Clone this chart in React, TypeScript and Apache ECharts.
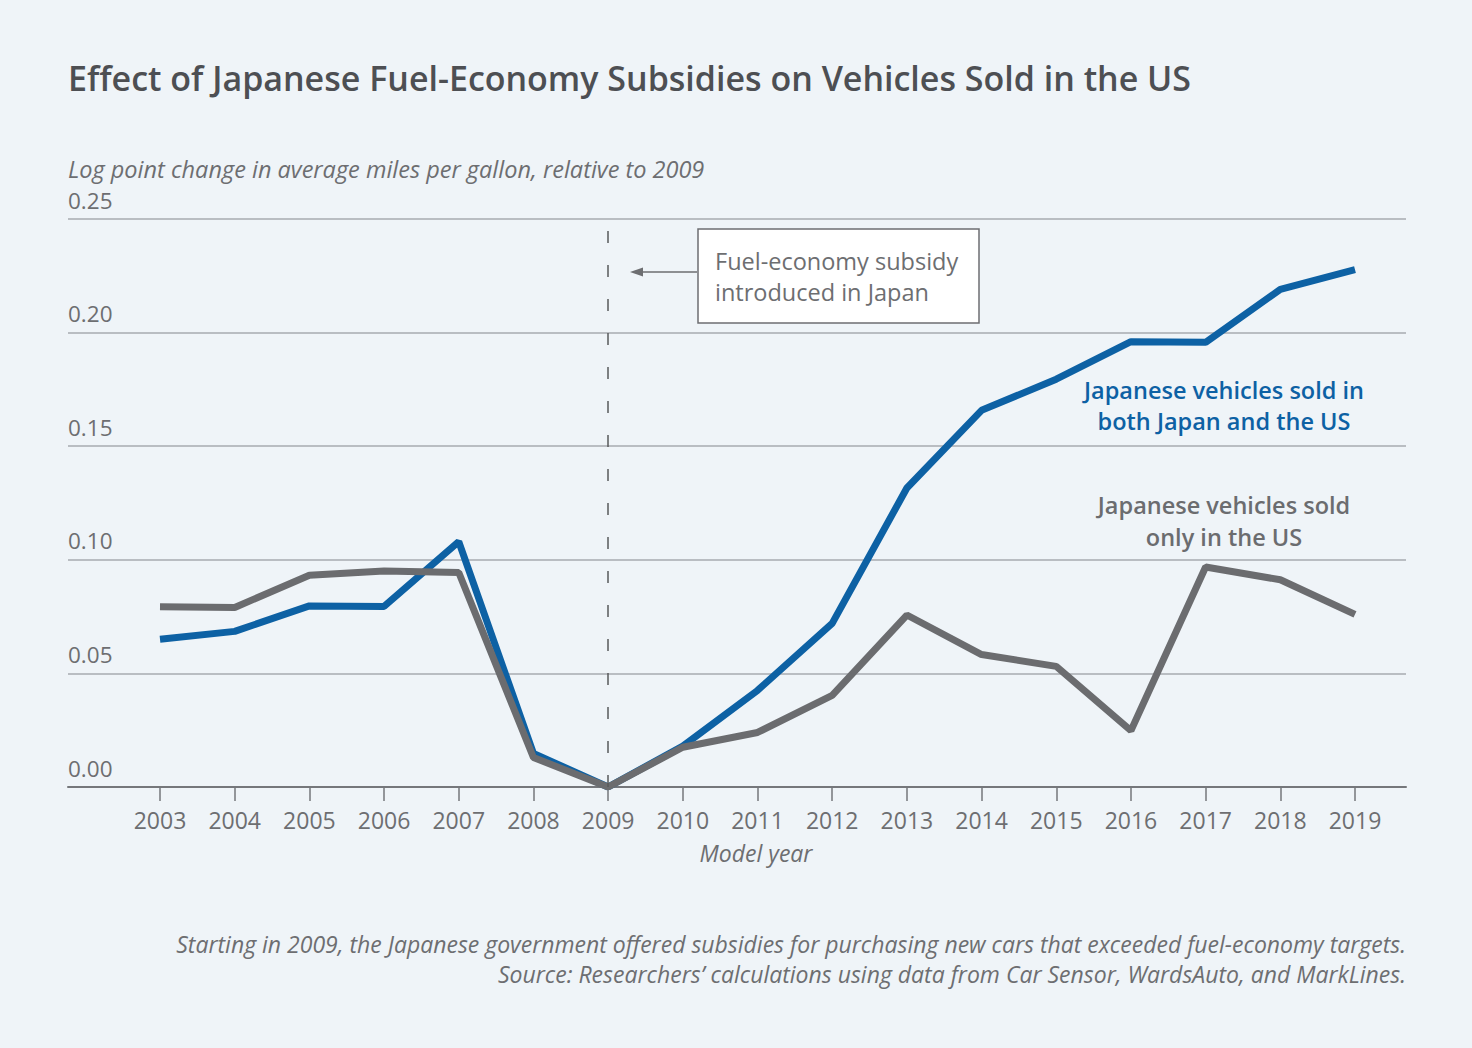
import React, { useEffect, useRef } from "react";
import * as echarts from "echarts";

const years = ["2003","2004","2005","2006","2007","2008","2009","2010","2011","2012","2013","2014","2015","2016","2017","2018","2019"];
const bothJapanUS = [0.065, 0.0685, 0.0797, 0.0795, 0.108, 0.0148, 0, 0.018, 0.0425, 0.072, 0.1316, 0.1658, 0.1795, 0.196, 0.1957, 0.219, 0.2277];
const onlyUS = [0.0793, 0.079, 0.0932, 0.0951, 0.0944, 0.013, 0, 0.0175, 0.024, 0.0403, 0.0757, 0.0583, 0.0531, 0.0248, 0.0968, 0.0912, 0.076];
const yTicks = [0, 0.05, 0.1, 0.15, 0.2, 0.25];
const subsidyYear = "2009";

const title = "Effect of Japanese Fuel-Economy Subsidies on Vehicles Sold in the US";
const yName = "Log point change in average miles per gallon, relative to 2009";
const xName = "Model year";
const annotation = "Fuel-economy subsidy\nintroduced in Japan";
const blueLabel = "Japanese vehicles sold in\nboth Japan and the US";
const grayLabel = "Japanese vehicles sold\nonly in the US";
const footerLines = [
  "Starting in 2009, the Japanese government offered subsidies for purchasing new cars that exceeded fuel-economy targets.",
  "Source: Researchers\u2019 calculations using data from Car Sensor, WardsAuto, and MarkLines.",
];

const FONT = "'Open Sans', Lato, sans-serif";
const BLUE = "#0d61a4";
const GRAY = "#6b6c6f";
const TEXT = "#6d6e71";

export default function App() {
  const ref = useRef<HTMLDivElement>(null);
  useEffect(() => {
    document.body.style.margin = "0";
    if (!ref.current) return;
    const chart = echarts.init(ref.current, undefined, { renderer: "svg" });
    const yMin = yTicks[0];
    const yMax = yTicks[yTicks.length - 1];
    const yInt = yTicks[1] - yTicks[0];
    chart.setOption({
      animation: false,
      backgroundColor: "#eff4f8",
      textStyle: { fontFamily: FONT },
      grid: [
        { left: 68, right: 66, top: 219, bottom: 261 },
        { left: 160, right: 117, top: 219, bottom: 261 },
      ],
      xAxis: [
        {
          gridIndex: 0, type: "value", min: 0, max: 1,
          axisLine: { show: true, onZero: false, lineStyle: { color: "#75777b", width: 2 } },
          axisTick: { show: false }, axisLabel: { show: false }, splitLine: { show: false },
        },
        {
          gridIndex: 1, type: "category", data: years, boundaryGap: false,
          axisLine: { show: false },
          axisTick: { show: true, length: 14, lineStyle: { color: "#75777b", width: 1.5 } },
          axisLabel: { color: TEXT, fontSize: 23, margin: 21, fontFamily: FONT, interval: 0 },
          splitLine: { show: false },
        },
      ],
      yAxis: [
        {
          gridIndex: 0, type: "value", min: yMin, max: yMax, interval: yInt,
          axisLine: { show: false }, axisTick: { show: false },
          axisLabel: {
            align: "left", margin: 0, verticalAlign: "bottom", padding: [0, 0, 8, 0],
            lineHeight: 22, color: TEXT, fontSize: 22.5, fontFamily: FONT,
            formatter: (v: number) => v.toFixed(2),
          },
          splitLine: { show: true, lineStyle: { color: "#b9bdc2", width: 2 } },
        },
        {
          gridIndex: 1, type: "value", min: yMin, max: yMax, interval: yInt,
          axisLine: { show: false }, axisTick: { show: false }, axisLabel: { show: false },
          splitLine: { show: false },
        },
      ],
      series: [
        {
          type: "line", xAxisIndex: 1, yAxisIndex: 1, data: bothJapanUS,
          showSymbol: false, symbol: "none",
          lineStyle: { color: BLUE, width: 7 },
          markLine: {
            silent: true, symbol: "none", label: { show: false },
            lineStyle: { color: "#58595b", width: 1.5, type: [12, 22] },
            data: [{ xAxis: subsidyYear }],
          },
          z: 3,
        },
        {
          type: "line", xAxisIndex: 1, yAxisIndex: 1, data: onlyUS,
          showSymbol: false, symbol: "none",
          lineStyle: { color: GRAY, width: 7 },
          z: 4,
        },
      ],
      graphic: [
        { type: "text", x: 68, y: 78, style: { text: title, fill: "#4d4f53", font: `600 34px ${FONT}`, verticalAlign: "middle" } },
        { type: "text", x: 68, y: 169, style: { text: yName, fill: TEXT, font: `italic 23.5px ${FONT}`, verticalAlign: "middle" } },
        { type: "text", x: 756, y: 853, style: { text: xName, fill: TEXT, font: `italic 23px ${FONT}`, align: "center", verticalAlign: "middle" } },
        { type: "rect", shape: { x: 698, y: 229, width: 281, height: 94 }, style: { fill: "#ffffff", stroke: "#6d6e71", lineWidth: 1.5 }, z: 10 },
        { type: "text", x: 715, y: 276, style: { text: annotation, fill: TEXT, font: `23.5px ${FONT}`, lineHeight: 31, verticalAlign: "middle" }, z: 11 },
        { type: "line", shape: { x1: 697, y1: 272, x2: 638, y2: 272 }, style: { stroke: "#6d6e71", lineWidth: 1.5 }, z: 10 },
        { type: "polygon", shape: { points: [[630, 272], [643, 267.5], [643, 276.5]] }, style: { fill: "#6d6e71" }, z: 10 },
        { type: "text", x: 1224, y: 405, style: { text: blueLabel, fill: BLUE, font: `600 23.5px ${FONT}`, lineHeight: 31, align: "center", verticalAlign: "middle" }, z: 10 },
        { type: "text", x: 1224, y: 521, style: { text: grayLabel, fill: GRAY, font: `600 23.5px ${FONT}`, lineHeight: 32, align: "center", verticalAlign: "middle" }, z: 10 },
        { type: "text", x: 1406, y: 944, style: { text: footerLines[0], fill: TEXT, font: `italic 23px ${FONT}`, align: "right", verticalAlign: "middle" } },
        { type: "text", x: 1406, y: 974, style: { text: footerLines[1], fill: TEXT, font: `italic 23px ${FONT}`, align: "right", verticalAlign: "middle" } },
      ],
    });
    return () => chart.dispose();
  }, []);
  return <div ref={ref} style={{ width: 1472, height: 1048 }} />;
}
